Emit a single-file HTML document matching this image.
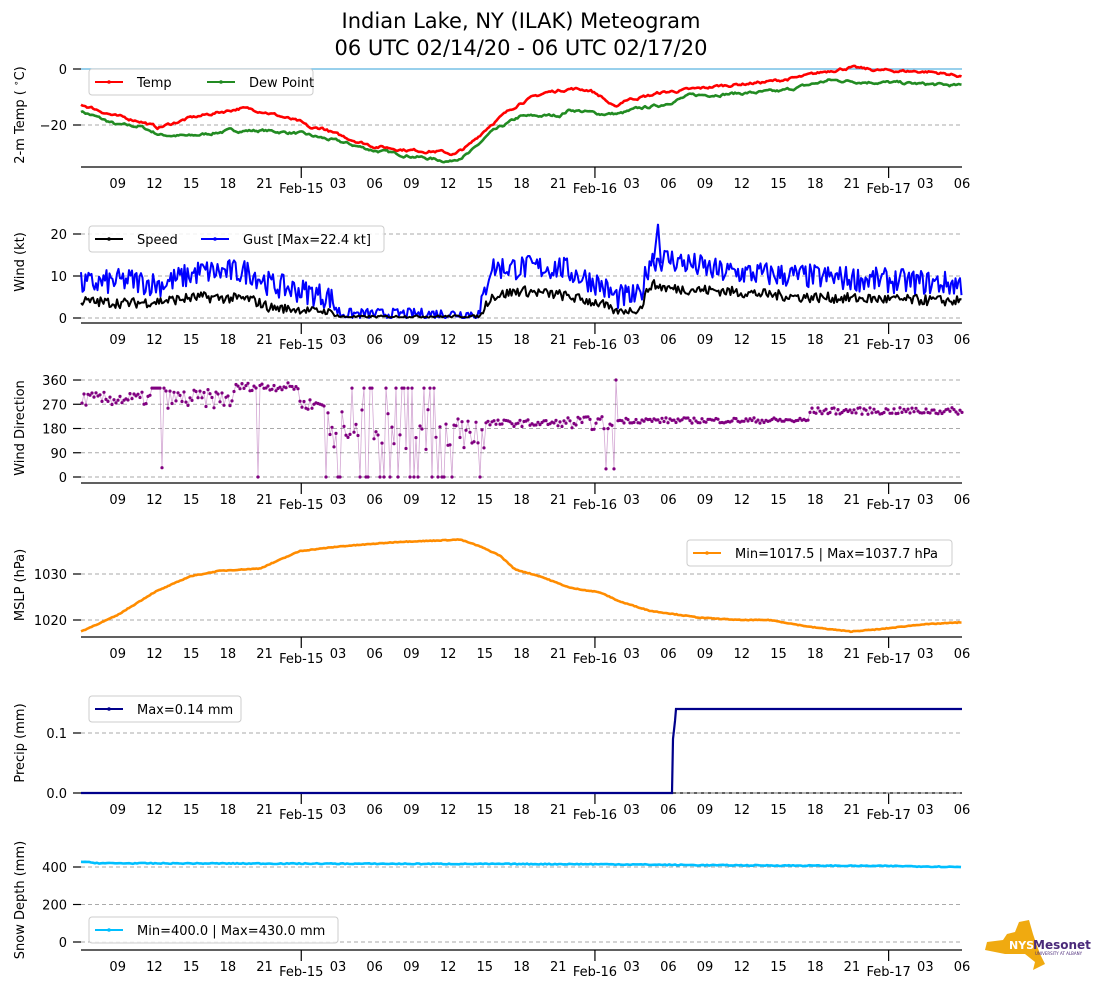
<!DOCTYPE html>
<html><head><meta charset="utf-8"><style>
body{margin:0;background:#fff;}
svg{display:block;font-family:"DejaVu Sans","Liberation Sans",sans-serif;}
</style></head><body>
<svg id="s" width="1094" height="1001" xmlns="http://www.w3.org/2000/svg">
<text x="521" y="28" font-size="21" text-anchor="middle">Indian Lake, NY (ILAK) Meteogram</text>
<text x="521" y="55" font-size="21" text-anchor="middle">06 UTC 02/14/20 - 06 UTC 02/17/20</text>
<g transform="translate(985,920)">
<path d="M2 22 L18 20 L22 14 L30 12 L34 2 L44 0 L48 14 L52 26 L56 36 L60 44 L48 50 L50 42 L40 34 L20 34 L10 32 L0 30 Z" fill="#f0aa10"/>
<text x="24" y="29" font-size="11" font-weight="bold" fill="#fff">NYS</text>
<text x="48" y="29" font-size="12" font-weight="bold" fill="#4b2a7a">Mesonet</text>
<text x="50" y="35" font-size="4" fill="#4b2a7a">UNIVERSITY AT ALBANY</text>
</g>
</svg>
<script>
var S=document.getElementById('s'),out='';
var seed=7;function rnd(){seed=(seed*16807)%2147483647;return seed/2147483647;}
function interp(k,x){for(var i=0;i<k.length-1;i++){if(x<=k[i+1][0]){var a=k[i],b=k[i+1];return a[1]+(b[1]-a[1])*(x-a[0])/(b[0]-a[0]);}}return k[k.length-1][1];}
var X0=81,X1=962;
function axes(bot,title,tcy,ticks,yf,grid,labs){
 out+='<line x1="'+X0+'" y1="'+bot+'" x2="'+X1+'" y2="'+bot+'" stroke="#000" stroke-width="1.2"/>';
 var hrs=['09','12','15','18','21','','03','06','09','12','15','18','21','','03','06','09','12','15','18','21','','03','06'];
 for(var i=0;i<24;i++){var x=X0+36.71*(i+1);
  if(hrs[i])out+='<text x="'+x+'" y="'+(bot+21)+'" font-size="13" text-anchor="middle">'+hrs[i]+'</text>';
  else{out+='<line x1="'+x+'" y1="'+bot+'" x2="'+x+'" y2="'+(bot+11)+'" stroke="#000" stroke-width="1.2"/>';
   out+='<text x="'+x+'" y="'+(bot+26)+'" font-size="13" text-anchor="middle">Feb-'+(15+Math.floor(i/8))+'</text>';}}
 ticks.forEach(function(t,j){var y=yf(t);
  if(grid)out+='<line x1="'+X0+'" y1="'+y+'" x2="'+X1+'" y2="'+y+'" stroke="#aaa" stroke-dasharray="4,3" stroke-width="1"/>';
  out+='<line x1="73" y1="'+y+'" x2="'+X0+'" y2="'+y+'" stroke="#000" stroke-width="1.2"/>';
  out+='<text x="67" y="'+(y+5)+'" font-size="13" text-anchor="end">'+(labs?labs[j]:(t<0?'\u2212'+(-t):t))+'</text>';});
 if(title)out+='<text transform="translate(24,'+tcy+') rotate(-90)" font-size="13" text-anchor="middle">'+title+'</text>';
}
function series(k,noise,yf,col,w,step,smooth,minv){var p=[],n=0;step=step||1;
 for(var x=X0;x<=X1;x+=step){n=smooth?n*0.7+(rnd()-0.5)*noise:(rnd()-0.5)*noise;var b=interp(k,x);var v=b+n*(minv!==undefined?Math.min(1,b/3+0.1):1);if(minv!==undefined)v=Math.max(minv,v);p.push(x.toFixed(1)+','+yf(v).toFixed(1));}
 out+='<polyline points="'+p.join(' ')+'" fill="none" stroke="'+col+'" stroke-width="'+w+'" stroke-linejoin="round"/>';}
function legend(x,y,w,items){out+='<rect x="'+x+'" y="'+y+'" width="'+w+'" height="26" rx="3" fill="#fff" fill-opacity="0.85" stroke="#ccc"/>';
 items.forEach(function(it){out+='<line x1="'+(x+it[0])+'" y1="'+(y+13)+'" x2="'+(x+it[0]+28)+'" y2="'+(y+13)+'" stroke="'+it[2]+'" stroke-width="2"/><circle cx="'+(x+it[0]+14)+'" cy="'+(y+13)+'" r="1.8" fill="'+it[2]+'"/><text x="'+(x+it[0]+42)+'" y="'+(y+18)+'" font-size="13">'+it[1]+'</text>';});}
// Panel 1
var y1=function(v){return 69-2.8*v;};
axes(167,'',0,[],y1,false);
out+='<text transform="translate(24,115) rotate(-90)" font-size="13" text-anchor="middle">2-m Temp ( <tspan font-size="9" dy="-5">\u2218</tspan><tspan dy="5">C)</tspan></text>';
[0,-20].forEach(function(t){var y=y1(t);if(t<0)out+='<line x1="'+X0+'" y1="'+y+'" x2="'+X1+'" y2="'+y+'" stroke="#aaa" stroke-dasharray="4,3"/>';out+='<line x1="73" y1="'+y+'" x2="81" y2="'+y+'" stroke="#000" stroke-width="1.2"/><text x="67" y="'+(y+5)+'" font-size="13" text-anchor="end">'+(t<0?'\u221220':'0')+'</text>';});
out+='<line x1="81" y1="69" x2="962" y2="69" stroke="#5ab4e0" stroke-width="1.3"/>';
var T=[[81,-12.5],[117,-17],[140,-18.5],[158,-21],[190,-17.5],[240,-14],[263,-15],[300,-19],[312,-21.5],[322,-21],[337,-23.5],[373,-27.5],[410,-29],[440,-29.5],[455,-30.5],[470,-27],[490,-20],[520,-12],[545,-8.5],[570,-7],[590,-7.5],[602,-10],[615,-14],[625,-11],[650,-9.5],[660,-8.5],[700,-7],[720,-6],[770,-4.5],[800,-3],[830,-0.5],[850,0.5],[880,-0.5],[930,-1],[962,-2.5]];
var D=[[81,-15],[117,-20],[140,-20.5],[160,-23.5],[190,-24],[230,-22],[263,-22],[300,-23],[340,-26],[373,-29],[410,-31],[450,-33],[470,-30],[490,-23],[520,-17],[560,-16.5],[570,-14.5],[600,-16],[620,-16],[640,-14],[660,-13],[690,-9.5],[720,-9],[780,-8],[830,-4],[860,-4.5],[900,-5],[962,-6]];
series(D,0.8,y1,'#228b22',2.6,1.5,true);series(T,0.8,y1,'#ff0000',2.6,1.5,true);
legend(89,69,224,[[6,'Temp','#ff0000'],[118,'Dew Point','#228b22']]);
// Panel 2
var y2=function(v){return 318-4.2*v;};
axes(323,'Wind (kt)',262,[0,10,20],y2,true);
var G=[[81,8],[130,9],[160,8],[200,11],[250,11],[270,8],[330,5],[340,1],[480,1],[490,12],[560,12],[600,8],[615,5],[640,5],[650,14],[670,14],[720,11],[800,10],[962,8]];
var W=[[81,4],[130,3.5],[160,4],[200,5],[250,4.5],[270,2.5],[330,1.5],[340,0.3],[480,0.4],[490,5],[520,6.5],[560,5.5],[600,3.5],[615,1.5],[640,2],[650,8],[670,7],[720,6.5],[800,5],[962,4]];
series(G,6,y2,'#0000ff',2,1.5,false,0);
out+='<polyline points="654,'+y2(14)+' 658,'+y2(22.4)+' 661,'+y2(13)+'" fill="none" stroke="#0000ff" stroke-width="2"/>';
series(W,2.5,y2,'#000',2,1.5,false,0);
legend(89,226,295,[[6,'Speed','#000'],[112,'Gust [Max=22.4 kt]','#0000ff']]);
// Panel 3
var y3=function(v){return 477-0.2694*v;};
axes(483,'Wind Direction',428,[0,90,180,270,360],y3,true);
var pts=[];for(var x=X0+1;x<=X1;x+=2){var v;
 if(x<152)v=290+(rnd()-0.5)*50;
 else if(x<165)v=rnd()<0.6?20+rnd()*40:330;
 else if(x<235)v=290+(rnd()-0.5)*70;
 else if(x<300)v=335+(rnd()-0.5)*30;
 else if(x<325)v=270+(rnd()-0.5)*40;
 else if(x<485){var r=rnd();v=r<0.2?0:r<0.4?330:100+rnd()*150;}
 else if(x<565)v=200+(rnd()-0.5)*25;
 else if(x<620){v=x>605&&x<616&&rnd()<0.6?30:200+(rnd()-0.5)*50;}
 else if(x<810)v=210+(rnd()-0.5)*20;
 else v=245+(rnd()-0.5)*25;
 if(Math.abs(x-258)<1.1)v=0;if(Math.abs(x-616)<1.1)v=360;
 pts.push([x,Math.max(0,Math.min(360,v))]);}
out+='<polyline points="'+pts.map(function(p){return p[0].toFixed(1)+','+y3(p[1]).toFixed(1);}).join(' ')+'" fill="none" stroke="#800080" stroke-opacity="0.35" stroke-width="0.8"/>';
pts.forEach(function(p){out+='<circle cx="'+p[0].toFixed(1)+'" cy="'+y3(p[1]).toFixed(1)+'" r="1.6" fill="#800080"/>';});
// Panel 4
var y4=function(v){return 620-4.6*(v-1020);};
axes(637,'MSLP (hPa)',585,[1020,1030],y4,true);
var P=[[81,1017.5],[117,1021],[154,1026],[190,1029.5],[220,1030.7],[260,1031.2],[300,1035],[340,1036],[400,1037],[440,1037.3],[460,1037.5],[480,1036],[500,1034],[515,1031],[540,1029.5],[570,1027],[600,1026],[620,1024],[650,1022],[700,1020.5],[740,1020],[770,1020],[810,1018.5],[850,1017.5],[880,1018],[920,1019],[962,1019.5]];
series(P,0.15,y4,'#ff8c00',2.6,1.5,false);
legend(687,540,265,[[6,'Min=1017.5 | Max=1037.7 hPa','#ff8c00']]);
// Panel 5
var y5=function(v){return 793-600*v;};
axes(793,'Precip (mm)',743,[0.0,0.1],y5,true,['0.0','0.1']);
out+='<polyline points="81,793 672,793 673,739 675,721 676,709 962,709" fill="none" stroke="#00008b" stroke-width="2.2"/>';
legend(89,696,152,[[6,'Max=0.14 mm','#00008b']]);
// Panel 6
var y6=function(v){return 942-0.1875*v;};
axes(950,'Snow Depth (mm)',900,[0,200,400],y6,true);
var SN=[[81,428],[100,420],[600,415],[700,410],[900,405],[962,400]];
series(SN,5,y6,'#00bfff',2.6,2,false);
legend(89,917,249,[[6,'Min=400.0 | Max=430.0 mm','#00bfff']]);
S.insertAdjacentHTML('beforeend',out);
</script>
</body></html>
